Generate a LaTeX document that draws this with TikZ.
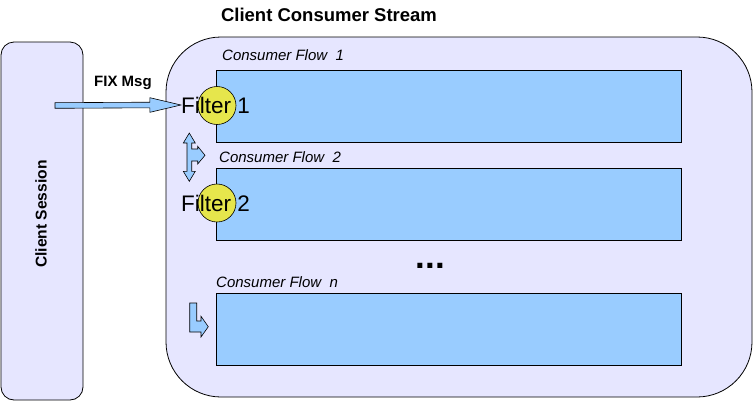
\documentclass[tikz,border=0pt]{standalone}
\usepackage{fontspec}
\setmainfont{Liberation Sans}
\usetikzlibrary{calc}
\definecolor{streambg}{RGB}{230,230,255}
\definecolor{flowblue}{RGB}{153,204,255}
\definecolor{filteryellow}{RGB}{230,230,76}

\begin{document}
\begin{tikzpicture}[x=1pt,y=-1pt,
	box/.style={shape=rectangle,draw=black,line width=0.8pt,fill=streambg,inner sep=0pt},
	flow/.style={shape=rectangle,draw=black,line width=0.8pt,fill=flowblue,minimum width=465pt,minimum height=72pt,inner sep=0pt},
	flowlabel/.style={anchor=west,inner sep=0pt,font=\fontsize{15}{18}\selectfont\itshape},
	boldlabel/.style={inner sep=0pt,font=\fontsize{15}{18}\selectfont\bfseries},
	filterdot/.style={shape=circle,draw=black,line width=0.6pt,fill=filteryellow,minimum size=38pt,inner sep=0pt},
	filtertext/.style={inner sep=0pt,font=\fontsize{22.5}{26}\selectfont},
	blockarrow/.style={draw=black,line width=0.6pt,fill=flowblue,line join=miter}]
	\useasboundingbox (0,0) rectangle (753,402);

	% boxes
	\node[box,rounded corners=13pt,minimum width=82pt,minimum height=358pt] (session) at (42,221) {};
	\node[box,rounded corners=55pt,minimum width=586pt,minimum height=360pt] (stream) at (459,217) {};
	\node[inner sep=0pt,font=\fontsize{18.5}{22}\selectfont\bfseries] (title) at (329,15) {Client Consumer Stream};
	\node[boldlabel,rotate=90,font=\fontsize{15.6}{18}\selectfont\bfseries] (sessionlabel) at (41,214) {Client Session};

	% consumer flows
	\node[flow] (flow1) at (448.5,106) {};
	\node[flow] (flow2) at (448.5,204) {};
	\node[flow] (flown) at (448.5,329) {};
	\node[flowlabel] (flow1label) at (222,55)  {Consumer Flow~~1};
	\node[flowlabel] (flow2label) at (219,157) {Consumer Flow~~2};
	\node[flowlabel] (flownlabel) at (216,282) {Consumer Flow~~n};
	\node[inner sep=0pt,font=\fontsize{35}{40}\selectfont\bfseries] (more) at (430.5,265.5) {...};

	% filters
	\node[filterdot] (filt1) at (217,105.5) {};
	\node[filterdot] (filt2) at (217,203) {};
	\node[filtertext] (filt1txt) at (215.5,105) {Filter 1};
	\node[filtertext] (filt2txt) at (215.5,203) {Filter 2};

	% FIX Msg
	\coordinate (msgtail) at (55,105.5);
	\node[boldlabel] (msglabel) at (123,82.5) {FIX Msg};
	\draw[blockarrow] (msgtail) ++(0,-2.8) -- ($(filt1txt.west)+(-31,-2.8)$) -- ($(filt1txt.west)+(-31,-7.3)$)
		-- (filt1txt.west) -- ($(filt1txt.west)+(-31,7.3)$) -- ($(filt1txt.west)+(-31,2.8)$) -- ($(msgtail)+(0,2.8)$) -- cycle;

	% flow arrows
	\draw[blockarrow] (189.3,133) -- (195.3,143) -- (191.7,143) -- (191.7,149) -- (197.7,149) -- (197.7,146.3)
		-- (205,155.3) -- (197.7,164) -- (197.7,161) -- (191.7,161) -- (191.7,171.3) -- (195.3,171.3)
		-- (189.3,181.3) -- (183.3,171.3) -- (187,171.3) -- (187,143) -- (183.3,143) -- cycle;
	\draw[blockarrow] (189.7,303) -- (196.7,303) -- (196.7,321) -- (201,321) -- (201,316.3) -- (208.3,326.7)
		-- (201,337) -- (201,332) -- (189.7,332) -- cycle;
\end{tikzpicture}
\end{document}
